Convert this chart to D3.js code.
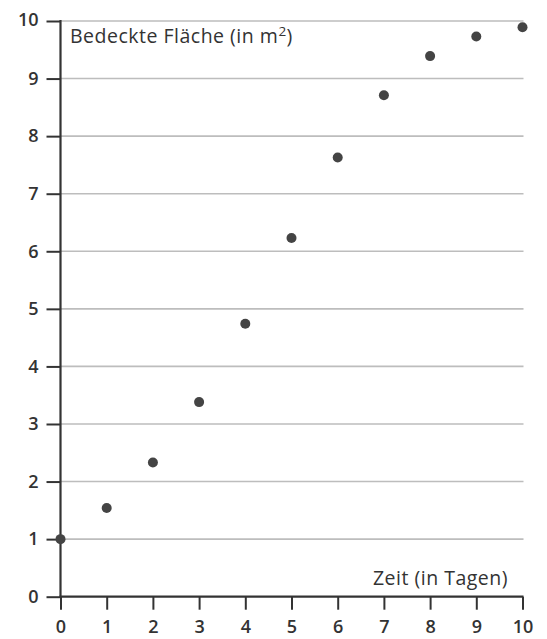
<!DOCTYPE html>
<html>
<head>
<meta charset="utf-8">
<script src="https://cdn.jsdelivr.net/npm/d3@7"></script>
<style>
  html, body { margin: 0; padding: 0; background: #fff; }
  svg { display: block; }
  text { font-family: "Open Sans", "Noto Sans", sans-serif; fill: #333; }
</style>
</head>
<body>
<svg id="chart" width="547" height="639"></svg>
<script>
const days = [0, 1, 2, 3, 4, 5, 6, 7, 8, 9, 10];
const area = [1.0, 1.54, 2.33, 3.38, 4.74, 6.23, 7.63, 8.71, 9.39, 9.73, 9.89];
const xTicks = [0, 1, 2, 3, 4, 5, 6, 7, 8, 9, 10];
const yTicks = [0, 1, 2, 3, 4, 5, 6, 7, 8, 9, 10];
const yLabel = "Bedeckte Fläche (in m";
const xLabel = "Zeit (in Tagen)";

const svg = d3.select("#chart");
const x = d3.scaleLinear().domain([0, 10]).range([60.5, 522.5]);
const y = d3.scaleLinear().domain([0, 10]).range([596.7, 21]);

// grid lines
svg.append("g").selectAll("line").data(yTicks.filter(d => d > 0)).join("line")
  .attr("x1", x(0)).attr("x2", x(10) + 1)
  .attr("y1", d => y(d)).attr("y2", d => y(d))
  .attr("stroke", "#bdbdbd").attr("stroke-width", 1.6);

// y axis
const yAxis = svg.append("g").attr("transform", `translate(${x(0)},0)`)
  .call(d3.axisLeft(y).tickValues(yTicks).tickSize(14).tickPadding(8).tickFormat(d3.format("d")));
yAxis.select(".domain").remove();
yAxis.selectAll(".tick line").attr("stroke", "#333").attr("stroke-width", 2);
yAxis.selectAll(".tick text").attr("font-size", 18).attr("font-weight", 600)
  .attr("font-family", "Open Sans").attr("fill", "#333").attr("dy", "0.32em");
yAxis.selectAll(".tick").filter(d => d === 10).select("text").attr("dy", "0.25em");
svg.append("line").attr("x1", x(0)).attr("x2", x(0)).attr("y1", y(10) - 1).attr("y2", y(0))
  .attr("stroke", "#333").attr("stroke-width", 2.2);

// x axis
const xAxis = svg.append("g").attr("transform", `translate(0,${y(0)})`)
  .call(d3.axisBottom(x).tickValues(xTicks).tickSize(13).tickPadding(6).tickFormat(d3.format("d")));
xAxis.select(".domain").remove();
xAxis.selectAll(".tick line").attr("stroke", "#333").attr("stroke-width", 2);
xAxis.selectAll(".tick text").attr("font-size", 18).attr("font-weight", 600)
  .attr("font-family", "Open Sans").attr("fill", "#333").attr("dy", "0.96em");
svg.append("line").attr("x1", x(0) - 1).attr("x2", x(10) + 1).attr("y1", y(0)).attr("y2", y(0))
  .attr("stroke", "#333").attr("stroke-width", 2.2);

// labels
const t = svg.append("text").attr("x", 70).attr("y", 42.7).attr("font-size", 19.5)
  .attr("font-weight", 500).attr("letter-spacing", 0.5);
t.append("tspan").text(yLabel);
t.append("tspan").attr("font-size", 13.5).attr("dy", -7).text("2");
t.append("tspan").attr("dy", 7).text(")");

svg.append("text").attr("x", 508).attr("y", 585).attr("text-anchor", "end")
  .attr("font-size", 19.5).attr("font-weight", 500).attr("letter-spacing", 0.5).text(xLabel);

// points
svg.append("g").selectAll("circle").data(days).join("circle")
  .attr("cx", d => x(d)).attr("cy", (d, i) => y(area[i])).attr("r", 5)
  .attr("fill", "#444");
</script>
</body>
</html>
